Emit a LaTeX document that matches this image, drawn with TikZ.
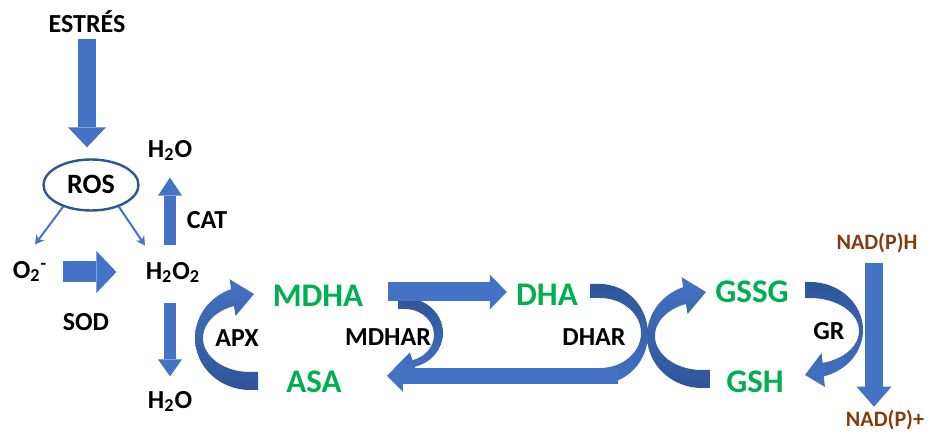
\documentclass[tikz,border=0pt]{standalone}
\usepackage{fontspec}
\setmainfont{Carlito}
\usepackage{tikz}
\usetikzlibrary{arrows.meta,shapes.geometric}

\definecolor{arrowblue}{HTML}{4472C4}
\definecolor{darkblue}{HTML}{2F5597}
\definecolor{metabgreen}{HTML}{00B050}
\definecolor{nadbrown}{HTML}{843C0C}

\begin{document}
\begin{tikzpicture}[x=0.5pt, y=-0.5pt,
    lbl/.style={font=\bfseries\fontsize{13}{15}\selectfont, inner sep=0pt, text height=8.2pt, text depth=0pt},
    metab/.style={lbl, font=\bfseries\fontsize{16.5}{18}\selectfont, text height=10.4pt, text=metabgreen},
    cofac/.style={lbl, font=\bfseries\fontsize{11}{13}\selectfont, text height=6.9pt, text=nadbrown},
    fat/.style={arrowblue, line width=#1},
    thin/.style={arrowblue, line width=1pt, -{Stealth[length=4.5pt,width=5pt]}},
    upribbon/.style={top color=arrowblue, bottom color=darkblue},
    downribbon/.style={top color=darkblue, bottom color=arrowblue},
]

    \useasboundingbox (0,0) rectangle (932,432);

    % Labels
    \node[lbl] (estres) at (87,24) {ESTRÉS};
    \node[lbl, font=\bfseries\fontsize{14}{16}\selectfont, text height=8.8pt, ellipse, draw=darkblue,
          line width=1.2pt, fill=white, minimum width=47.5pt, minimum height=25.5pt] (ros) at (91,185) {ROS};
    \node[lbl] (o2) at (30,270) {O\textsubscript{2}\textsuperscript{-}};
    \node[lbl] (h2o2) at (173,271) {H\textsubscript{2}O\textsubscript{2}};
    \node[lbl] (h2otop) at (170,149) {H\textsubscript{2}O};
    \node[lbl] (h2obot) at (170,400) {H\textsubscript{2}O};
    \node[lbl] (sod) at (86,322) {SOD};
    \node[lbl] (cat) at (207,220) {CAT};
    \node[lbl] (apx) at (237,338) {APX};
    \node[metab] (mdha) at (318,296) {MDHA};
    \node[metab] (asa) at (314,382) {ASA};
    \node[lbl] (mdhar) at (388,337) {MDHAR};
    \node[metab] (dha) at (547,295) {DHA};
    \node[lbl] (dhar) at (594,337) {DHAR};
    \node[metab] (gssg) at (752,292) {GSSG};
    \node[metab] (gsh) at (755,382) {GSH};
    \node[lbl] (gr) at (829,331) {GR};
    \node[cofac] (nadph) at (877,243) {NAD(P)H};
    \node[cofac] (nadp) at (885,420) {NAD(P)+};

    % Stress and ROS
    \draw[fat=9pt, -{Triangle[width=19pt,length=10pt,line width=0pt]}, shorten <=3pt, shorten >=5.5pt]
        (estres.south) -- (estres.south |- ros.north);
    \draw[thin] (ros.218) -- ([xshift=2.5pt,yshift=8.5pt]o2.north);
    \draw[thin] (ros.-38) -- ([xshift=-14pt,yshift=8.5pt]h2o2.north);

    % SOD, CAT and the way down to water
    \draw[fat=10.5pt, -{Triangle[width=21pt,length=10pt,line width=0pt]}, shorten <=7.5pt, shorten >=14.5pt]
        ([yshift=-1pt]o2.east) -- ([yshift=-1pt]o2.east -| h2o2.west);
    \draw[fat=6pt, -{Triangle[width=12pt,length=9pt,line width=0pt]}, shorten <=8.5pt, shorten >=10pt]
        (h2o2.north -| h2otop.south) -- (h2otop.south);
    \draw[fat=6pt, -{Triangle[width=12pt,length=8.5pt,line width=0pt]}, shorten <=11.5pt, shorten >=7.5pt]
        (h2o2.south -| h2obot.north) -- (h2obot.north);

    % APX and glutathione cycles
    \foreach \dx/\dy in {0/0, 452/-2}
        \shade[upribbon, shift={(\dx,\dy)}] (258,390) -- (250,390)
            arc[start angle=90, end angle=250, x radius=55, y radius=52]
            -- (229.6,279.2) -- (254,294) -- (235.6,315.9) -- (233.9,306.05)
            arc[start angle=250, end angle=90, x radius=47, y radius=34]
            -- (258,372) -- cycle;

    % MDHAR
    \shade[downribbon] (398,298) -- (405,298)
        arc[start angle=-90, end angle=75, x radius=38, y radius=35]
        -- (417.4,374.4) -- (394,368.3) -- (410,352.5) -- (412.5,360.1)
        arc[start angle=75, end angle=-90, x radius=29, y radius=26]
        -- (398,309) -- cycle;

    % DHAR
    \shade[downribbon] (590,284) -- (600,284)
        arc[start angle=-90, end angle=90, x radius=48, y radius=50]
        -- (600,368)
        arc[start angle=90, end angle=-90, x radius=41, y radius=35]
        -- (590,298) -- cycle;
    \coordinate (dharend) at (618,376);
    \draw[fat=8pt, -{Triangle[width=16pt,length=8pt,line width=0pt]}, shorten >=22.5pt]
        (dharend) -- (dharend -| asa.east);

    % GR
    \shade[downribbon] (805,282) -- (810,282)
        arc[start angle=-90, end angle=75, x radius=53, y radius=48]
        -- (825,387) -- (805,375) -- (821.5,353) -- (822.7,362.9)
        arc[start angle=75, end angle=-90, x radius=49, y radius=33]
        -- (805,298) -- cycle;

    % MDHA to DHA
    \draw[fat=9.5pt, -{Triangle[width=17.5pt,length=8.5pt,line width=0pt]}, shorten <=12pt, shorten >=4.5pt]
        ([yshift=2pt]mdha.east) -- ([yshift=2pt]mdha.east -| dha.west);

    % NAD(P)H
    \draw[fat=9pt, -{Triangle[width=17.5pt,length=10pt,line width=0pt]}, shorten <=6.5pt, shorten >=3pt]
        ([xshift=-1.5pt]nadph.south) -- ([xshift=-1.5pt]nadph.south |- nadp.north);

\end{tikzpicture}
\end{document}
